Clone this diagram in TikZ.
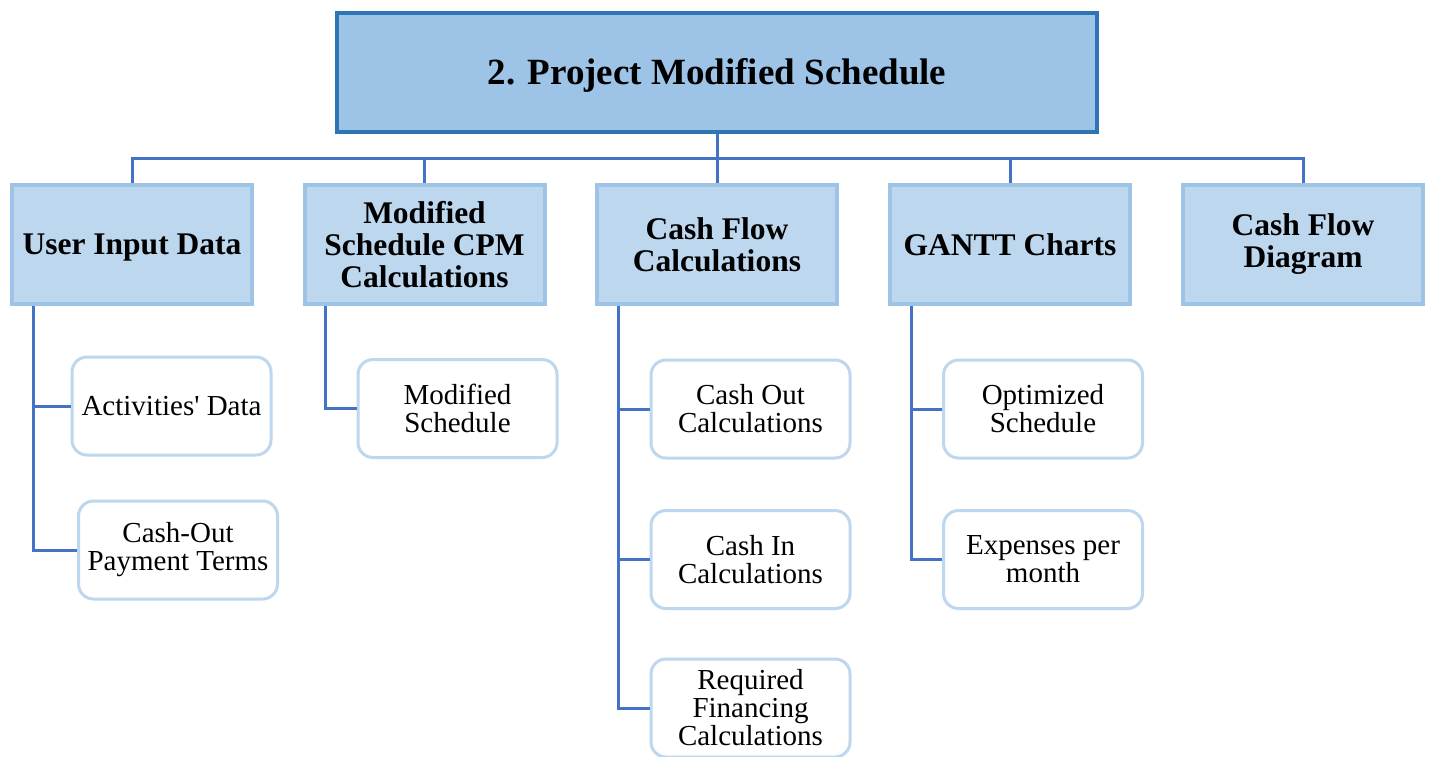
\documentclass[tikz,border=0pt]{standalone}
\usepackage{fontspec}
\setmainfont{Liberation Serif}
\definecolor{titleborder}{HTML}{2E75B6}
\definecolor{titlefill}{HTML}{9DC3E6}
\definecolor{lvlborder}{HTML}{9DC3E6}
\definecolor{lvlfill}{HTML}{BDD7EE}
\definecolor{subborder}{HTML}{BDD7EE}
\definecolor{connblue}{HTML}{4472C4}
\newcommand{\lowertxt}[2]{\raisebox{-#1}[\height][\depth]{#2}}
\begin{document}
\begin{tikzpicture}[x=1pt,y=-1pt,
  titlebox/.style={draw=titleborder,fill=titlefill,line width=4pt,minimum width=760pt,minimum height=119pt,inner sep=0pt,font=\fontsize{37}{40}\selectfont\bfseries},
  lvlbox/.style={draw=lvlborder,fill=lvlfill,line width=4pt,minimum width=240pt,minimum height=119pt,inner sep=0pt,align=center,font=\fontsize{31.5}{32}\selectfont\bfseries},
  subbox/.style={draw=subborder,fill=white,line width=3pt,rounded corners=15pt,minimum width=199pt,minimum height=98pt,inner sep=0pt,align=center,font=\fontsize{29}{28}\selectfont},
  conn/.style={draw=connblue,line width=3pt}]
\useasboundingbox[fill=white] (0,0) rectangle (1431,756);
\node[titlebox] (title) at (717,72.5) {\lowertxt{3pt}{2. Project Modified Schedule}};
\node[lvlbox] (uid) at (132,244.5) {\lowertxt{3pt}{User Input Data}};
\node[lvlbox] (msc) at (424.5,244.5) {Modified\\Schedule CPM\\Calculations};
\node[lvlbox] (cfc) at (717,244.5) {Cash Flow\\Calculations};
\node[lvlbox] (gc) at (1010,244.5) {GANTT Charts};
\node[lvlbox] (cfd) at (1303,244.5) {Cash Flow\\Diagram};
\node[subbox] (ad) at (171.5,406) {Activities\textquotesingle{} Data};
\node[subbox] (cop) at (178,550) {Cash-Out\\Payment Terms};
\node[subbox] (ms) at (457.5,408.5) {Modified\\Schedule};
\node[subbox] (coc) at (750.5,409) {Cash Out\\Calculations};
\node[subbox] (cic) at (750.5,559.5) {Cash In\\Calculations};
\node[subbox] (rfc) at (750.5,708) {Required\\Financing\\Calculations};
\node[subbox] (os) at (1043,409) {Optimized\\Schedule};
\node[subbox] (epm) at (1043,559.5) {Expenses per\\month};
\draw[conn] (title.south) -- ++(0,24.5) coordinate (hub);
\foreach \n in {uid,msc,cfc,gc,cfd} \draw[conn] (\n.north) |- (hub);
\draw[conn] ([xshift=23pt]uid.south west) |- (ad.west);
\draw[conn] ([xshift=23pt]uid.south west) |- (cop.west);
\draw[conn] ([xshift=23pt]msc.south west) |- (ms.west);
\draw[conn] ([xshift=23pt]cfc.south west) |- (coc.west);
\draw[conn] ([xshift=23pt]cfc.south west) |- (cic.west);
\draw[conn] ([xshift=23pt]cfc.south west) |- (rfc.west);
\draw[conn] ([xshift=23pt]gc.south west) |- (os.west);
\draw[conn] ([xshift=23pt]gc.south west) |- (epm.west);
\end{tikzpicture}
\end{document}
